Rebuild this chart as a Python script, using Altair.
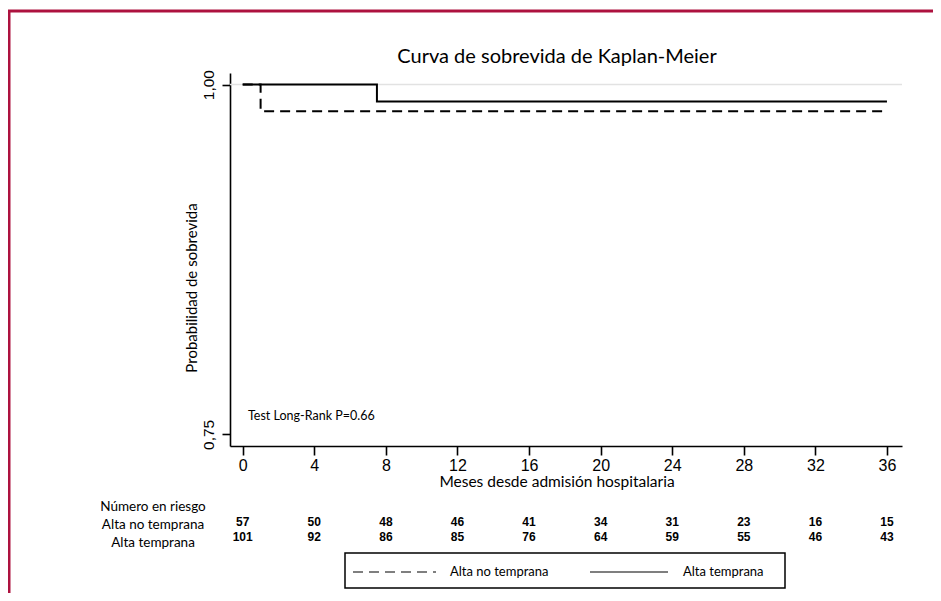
import altair as alt
import pandas as pd

# ---- data ----
groups = ["Alta no temprana", "Alta temprana"]
# step curves (time in months, survival)
t_no = [0, 1.0, 36]
s_no = [1.0, 0.981, 0.981]
t_si = [0, 7.5, 36]
s_si = [1.0, 0.988, 0.988]

risk_months = [0, 4, 8, 12, 16, 20, 24, 28, 32, 36]
risk_no = [57, 50, 48, 46, 41, 34, 31, 23, 16, 15]
risk_si = [101, 92, 86, 85, 76, 64, 59, 55, 46, 43]

title_txt = "Curva de sobrevida de Kaplan-Meier"
x_title = "Meses desde admisión hospitalaria"
y_title = "Probabilidad de sobrevida"
risk_title = "Número en riesgo"
test_txt = "Test Long-Rank P=0.66"

curves = pd.DataFrame(
    {"t": t_no + t_si, "s": s_no + s_si,
     "grupo": [groups[0]] * len(t_no) + [groups[1]] * len(t_si)}
)
risk1 = pd.DataFrame({"t": risk_months, "n": risk_no})
risk2 = pd.DataFrame({"t": risk_months, "n": risk_si})

W, H = 672, 373
CAL = "Lato"
ARIAL = "Liberation Sans"

xs = alt.Scale(domain=[-0.71, 36.84], zero=False, nice=False)
ys = alt.Scale(domain=[0.7417, 1.0083], zero=False, nice=False)

xaxis = alt.Axis(values=risk_months, title=None, grid=False, domainColor="black",
                 domainWidth=1.6, tickColor="black", tickWidth=1.6, tickSize=9,
                 labelFont=ARIAL, labelFontSize=16, labelColor="black", labelPadding=2)
yaxis = alt.Axis(values=[0.75, 1.0], title=None, grid=False, domainColor="black",
                 domainWidth=1.6, tickColor="black", tickWidth=1.6, tickSize=8,
                 labelFont=ARIAL, labelFontSize=15.5, labelColor="black", labelAngle=270,
                 labelAlign="center", labelBaseline="bottom", labelPadding=6,
                 labelExpr="replace(format(datum.value, '.2f'), '.', ',')")

base = alt.Chart(curves)

grid1 = alt.Chart(pd.DataFrame({"s": [1.0]})).mark_rule(color="#e2e2e2", strokeWidth=1.5).encode(
    y=alt.Y("s:Q", scale=ys, axis=yaxis)
)

lines = base.mark_line(interpolate="step-after", color="black", strokeWidth=2).encode(
    x=alt.X("t:Q", scale=xs, axis=xaxis),
    y=alt.Y("s:Q", scale=ys, axis=yaxis),
    strokeDash=alt.StrokeDash("grupo:N", scale=alt.Scale(domain=groups, range=[[10, 6], [1, 0]]),
                              legend=None),
    detail="grupo:N",
)

def txt(s, x, y, size=14, font=CAL, align="center", angle=0, weight="normal"):
    kw = dict(text=s, font=font, fontSize=size, align=align, baseline="middle",
              color="black", fontWeight=weight)
    if angle:
        kw["angle"] = angle
    return alt.Chart(pd.DataFrame({"a": [0]})).mark_text(**kw).encode(
        x=alt.value(x), y=alt.value(y))

title = txt(title_txt, 327, -16, size=20)
xt = txt(x_title, 327, 409, size=15.5)
yt = txt(y_title, -38, 215, size=15, angle=270)
test = txt(test_txt, 18, 343, size=12.5, align="left")
rt = txt(risk_title, -77, 434, size=13.5)
r1l = txt(groups[0], -77, 452, size=13.5)
r2l = txt(groups[1], -77, 470, size=13.5)

r1 = alt.Chart(risk1).mark_text(font=ARIAL, fontSize=12, fontWeight="bold", baseline="middle",
                                color="black").encode(
    x=alt.X("t:Q", scale=xs), y=alt.value(448.5), text="n:Q")
r2 = alt.Chart(risk2).mark_text(font=ARIAL, fontSize=12, fontWeight="bold", baseline="middle",
                                color="black").encode(
    x=alt.X("t:Q", scale=xs), y=alt.value(463.5), text="n:Q")

one = pd.DataFrame({"a": [0]})
leg_box = alt.Chart(one).mark_rect(fill="white", stroke="black", strokeWidth=1.5).encode(
    x=alt.value(115), x2=alt.value(555), y=alt.value(480), y2=alt.value(515))
leg_l1 = alt.Chart(one).mark_rule(color="black", strokeWidth=1.2, strokeDash=[10, 6]).encode(
    x=alt.value(123), x2=alt.value(206), y=alt.value(499))
leg_l2 = alt.Chart(one).mark_rule(color="black", strokeWidth=1.2).encode(
    x=alt.value(360), x2=alt.value(438), y=alt.value(499))
leg_t1 = txt(groups[0], 220, 499, size=13, align="left")
leg_t2 = txt(groups[1], 453, 499, size=13, align="left")

border = alt.Chart(one).mark_rect(fill=None, stroke="#ad123f", strokeWidth=3).encode(
    x=alt.value(-221), x2=alt.value(900), y=alt.value(-62), y2=alt.value(800))

chart = alt.layer(
    border, grid1, lines, title, xt, yt, test, rt, r1l, r2l, r1, r2,
    leg_box, leg_l1, leg_l2, leg_t1, leg_t2,
).properties(
    width=W, height=H,
    autosize=alt.AutoSizeParams(type="none"),
    padding={"left": 222, "top": 65, "right": 31, "bottom": 147},
    background="white",
).configure_view(stroke=None)

chart.save("out.html", embed_options={"renderer": "svg", "actions": False})
